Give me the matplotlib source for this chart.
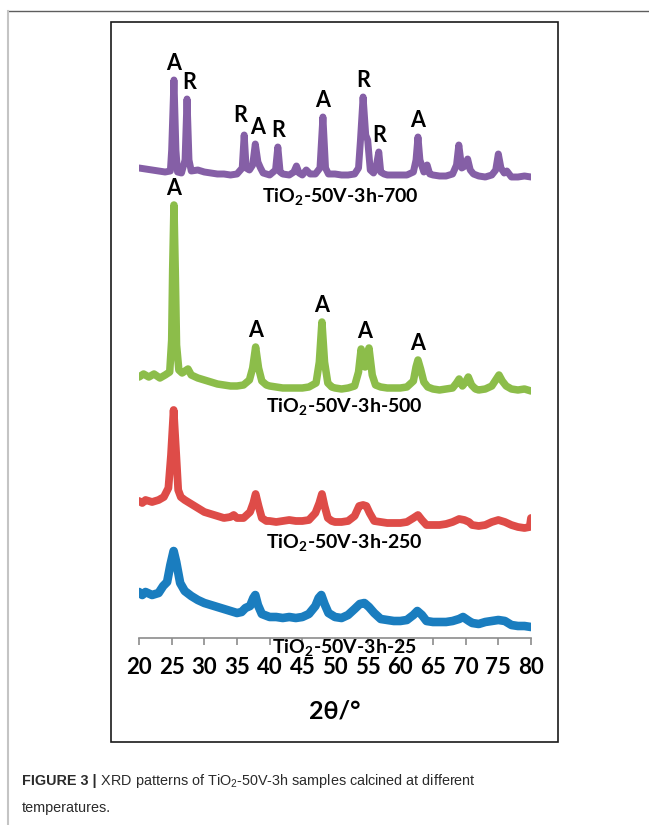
import matplotlib
matplotlib.use("Agg")
import matplotlib.pyplot as plt
from matplotlib import font_manager
from matplotlib.patches import Rectangle
from matplotlib.lines import Line2D
import numpy as np

# ---- data (stacked intensity, a.u.) ----
tt_700 = [20, 21, 22, 23, 24, 24.8, 25.0, 25.35, 25.65, 25.9, 26.5, 27.05, 27.35, 27.65, 28, 29, 30, 31, 32, 33,
          34, 35, 35.8, 36.1, 36.4, 36.9, 37.4, 37.8, 38.2, 38.6, 39, 40, 40.9, 41.25, 41.6, 42, 43, 43.7, 44.1,
          44.5, 45, 45.6, 46.2, 47, 47.7, 48.15, 48.55, 49, 50, 51, 52, 53, 53.6, 53.9, 54.3, 54.7, 55.0, 55.4,
          55.9, 56.35, 56.7, 57.0, 57.5, 58, 59, 60, 61, 62, 62.4, 62.7, 63.0, 63.6, 64.1, 64.5, 65, 66, 67, 68,
          68.6, 68.95, 69.4, 69.9, 70.3, 70.7, 71.2, 72, 73, 74, 74.6, 75.0, 75.4, 75.9, 76.3, 77, 78, 79, 80]
int_700 = [470, 469, 468, 467, 466, 467, 488, 558, 488, 466, 465, 478, 539, 478, 467, 468, 466, 465, 464, 464,
           463, 464, 470, 503, 470, 468, 473, 494, 476, 470, 465, 463, 468, 491, 466, 464, 463, 466, 472,
           465, 463, 468, 464, 464, 470, 521, 470, 464, 464, 463, 463, 464, 470, 498, 541, 503, 498, 468,
           465, 473, 486, 466, 464, 463, 463, 463, 463, 466, 478, 501, 478, 466, 473, 464, 463, 462, 462, 464,
           473, 493, 470, 472, 479, 468, 464, 462, 461, 463, 468, 484, 470, 465, 467, 461, 461, 462, 461]

tt_500 = [20, 20.7, 21.5, 22.3, 23.2, 24.0, 24.7, 25.0, 25.15, 25.35, 25.55, 25.75, 26.1, 26.6, 27.5, 28, 29, 30,
          31, 32, 33, 34, 35, 36, 36.9, 37.4, 37.85, 38.3, 38.8, 39.5, 40, 41, 42, 43, 44, 45, 46, 47.1, 47.6,
          48.0, 48.4, 48.9, 49.5, 50, 51, 52, 53, 53.6, 54.0, 54.6, 55.2, 55.7, 56.2, 57, 58, 59, 60, 61, 62,
          62.4, 62.7, 63.1, 63.6, 64.2, 65, 66, 67, 68, 68.6, 69.0, 69.5, 70.0, 70.4, 70.9, 71.5, 72, 73, 74,
          74.6, 75.1, 75.6, 76.2, 77, 78, 79, 80]
int_500 = [261, 264, 261, 264, 260, 263, 266, 298, 368, 433, 368, 293, 268, 265, 269, 263, 260, 258,
           256, 254, 253, 252, 252, 253, 258, 270, 291, 270, 257, 253, 252, 251, 250, 250, 250, 250, 251, 255, 276,
           316, 276, 255, 251, 250, 249, 250, 252, 266, 289, 271, 290, 263, 253, 251, 250, 250, 250, 251, 257,
           271, 278, 269, 256, 251, 249, 248, 249, 250, 255, 259, 252, 256, 261, 253, 249, 248, 249, 252,
           258, 263, 257, 252, 249, 248, 249, 247]

tt_250 = [20, 20.5, 21, 22, 23, 23.8, 24.5, 24.9, 25.3, 25.7, 26.0, 26.4, 27, 28, 29, 30, 31, 32, 33, 34, 34.5,
          35, 36, 37, 37.5, 37.85, 38.3, 38.8, 39.5, 40, 41, 42, 43, 44, 45, 46, 47, 47.6, 48.0, 48.4, 48.9,
          49.5, 50, 51, 52, 53, 53.7, 54.3, 54.8, 55.3, 56, 57, 58, 59, 60, 61, 62, 62.7, 63.3, 64, 65, 66, 67,
          68, 69, 69.8, 70.5, 71, 72, 73, 74, 75, 76, 77, 78, 79, 79.8, 80]
int_250 = [137, 135, 138, 136, 138, 141, 150, 183, 228, 183, 148, 141, 138, 134, 130, 126, 124, 122, 120, 121, 123,
           120, 120, 126, 135, 144, 132, 120, 117, 117, 116, 117, 118, 117, 117, 118, 125, 135, 144, 132, 120,
           117, 116, 116, 117, 122, 132, 133, 132, 125, 117, 116, 115, 115, 115, 116, 120, 123, 118, 113, 113, 113,
           114, 116, 119, 118, 116, 113, 112, 113, 116, 118, 116, 113, 111, 110, 111, 120]

tt_25 = [20, 20.5, 21, 22, 23, 23.7, 24.3, 24.8, 25.3, 25.7, 26.3, 27, 28, 29, 30, 31, 32, 33, 34, 35, 35.7, 36.3,
         37, 37.5, 37.8, 38.2, 38.8, 40, 41, 42, 43, 44, 45, 46, 47, 47.5, 47.9, 48.4, 49, 50, 51, 52, 53, 53.8,
         54.5, 55.2, 56, 57, 58, 59, 60, 61, 62, 62.6, 63.3, 64, 65, 66, 67, 68, 69, 69.6, 70.5, 71, 72, 73, 74,
         75, 76, 77, 78, 79, 80]
int_25 = [46, 43, 46, 43, 45, 52, 56, 73, 87, 76, 55, 47, 42, 38, 35, 33, 31, 29, 27, 25, 26, 30,
          32, 40, 43, 33, 24, 21, 21, 20, 21, 20, 21, 24, 32, 40, 43, 34, 25, 21, 20, 23, 29, 34,
          35, 31, 25, 19, 18, 17, 17, 18, 23, 27, 23, 17, 16, 16, 16, 17, 19, 21, 17, 15, 14, 16, 17,
          18, 17, 13, 12, 12, 11]

# phase assignments (A = anatase, R = rutile)
peaks_700 = [(25.35, "A"), (27.35, "R"), (36.1, "R"), (37.8, "A"), (41.25, "R"),
             (48.15, "A"), (54.3, "R"), (56.7, "R"), (62.7, "A")]
peaks_500 = [(25.35, "A"), (37.85, "A"), (48.0, "A"), (54.6, "A"), (62.7, "A")]

sample_names = ["TiO$_\\mathbf{2}$-50V-3h-700", "TiO$_\\mathbf{2}$-50V-3h-500",
                "TiO$_\\mathbf{2}$-50V-3h-250", "TiO$_\\mathbf{2}$-50V-3h-25"]
x_ticks = [20, 25, 30, 35, 40, 45, 50, 55, 60, 65, 70, 75, 80]

# small sideways nudges (points) so crowded letters don't collide
label_nudge = {(36.1, "R"): (-3, 2), (37.8, "A"): (1.5, 0), (27.35, "R"): (1.5, 0)}


def has_font(name):
    try:
        font_manager.findfont(name, fallback_to_default=False)
        return True
    except Exception:
        return False


chart_font = "Lato" if has_font("Lato") else "DejaVu Sans"
cap_font = "Liberation Sans"

plt.rcParams["font.family"] = [chart_font, "DejaVu Sans"]
plt.rcParams["mathtext.fontset"] = "custom"
plt.rcParams["mathtext.bf"] = f"{chart_font}:bold"
plt.rcParams["mathtext.rm"] = cap_font

W, H = 649, 825
fig = plt.figure(figsize=(W / 100, H / 100), dpi=100)

# page frame and chart border
fig.add_artist(Line2D([8 / W, 1], [1 - 11 / H] * 2, color="#5e5e5e", lw=1.0))
fig.add_artist(Line2D([8 / W] * 2, [0, 1 - 11 / H], color="#c4c4c4", lw=1.5))
fig.add_artist(Rectangle((111 / W, 1 - 742 / H), 447 / W, 720 / H, fill=False,
                         edgecolor="#1a1a1a", lw=1.2, transform=fig.transFigure))

ax = fig.add_axes([139 / W, 1 - 638 / H, 392 / W, 598 / H])

series = [
    (tt_700, int_700, "#855fa6", 5.0, sample_names[0], (50.8, 441)),
    (tt_500, int_500, "#8cbd4a", 5.4, sample_names[1], (51.5, 231)),
    (tt_250, int_250, "#de4c48", 5.6, sample_names[2], (51.5, 95)),
    (tt_25, int_25, "#1a7dbf", 6.2, sample_names[3], (51.5, -10)),
]
for tt, inten, col, lw, name, pos in series:
    ax.plot(tt, inten, color=col, lw=lw, solid_joinstyle="round", solid_capstyle="round")
    ax.text(pos[0], pos[1], name, ha="center", va="center", fontsize=14,
            fontweight="bold", clip_on=False)

for tt, inten, marks in [(tt_700, int_700, peaks_700), (tt_500, int_500, peaks_500)]:
    tt_a = np.array(tt)
    in_a = np.array(inten)
    for pos, lab in marks:
        top = in_a[np.abs(tt_a - pos) <= 0.7].max()
        dx, dy = label_nudge.get((pos, lab), (0, 0)) if tt is tt_700 else (0, 0)
        ax.annotate(lab, (pos, top), xytext=(dx, 7 + dy), textcoords="offset points",
                    ha="center", va="baseline", fontsize=15.5, fontweight="bold")

ax.set_xlim(20, 80)
ax.set_ylim(0, 598)
ax.set_xticks(x_ticks)
ax.set_xticklabels([str(t) for t in x_ticks], fontsize=16, fontweight="bold")
ax.tick_params(axis="x", direction="out", length=5, width=1.2, color="#8c8c8c", pad=9)
ax.set_yticks([])
for side in ["left", "right", "top"]:
    ax.spines[side].set_visible(False)
ax.spines["bottom"].set_color("#8c8c8c")
ax.spines["bottom"].set_linewidth(1.2)
ax.set_xlabel("2θ/°", fontsize=18, fontweight="bold", labelpad=15)
ax.patch.set_alpha(0)

# caption
cap = fig.text(22 / W, 1 - 781 / H, "FIGURE 3 |", fontsize=10.4, fontweight="bold",
               family=cap_font, color="#2b2b2b", va="center")
ax.annotate(" XRD patterns of TiO$_\\mathrm{2}$-50V-3h samples calcined at different",
            xy=(1, 0.5), xycoords=cap, va="center", fontsize=10.4, family=cap_font, color="#2b2b2b",
            annotation_clip=False)
fig.text(22 / W, 1 - 808 / H, "temperatures.", fontsize=10.4, family=cap_font,
         color="#2b2b2b", va="center")

fig.savefig("out.png", dpi=100)
